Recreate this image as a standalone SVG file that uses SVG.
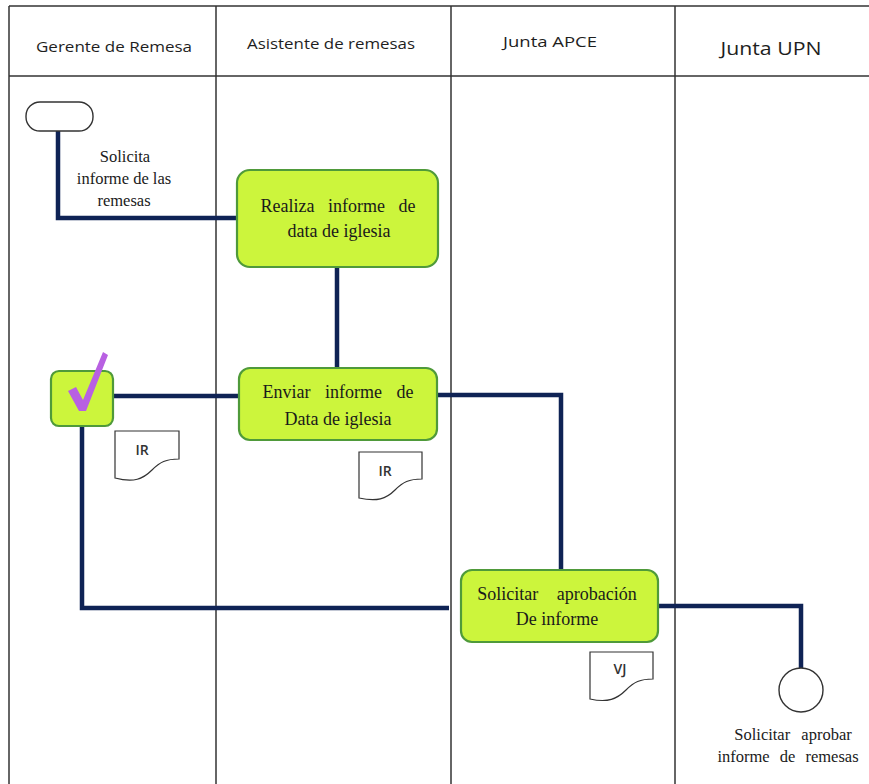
<svg xmlns="http://www.w3.org/2000/svg" width="869" height="784" viewBox="0 0 869 784">
  <style>
    .lane { stroke: #333; stroke-width: 1.5; fill: none; }
    .hdr { font-family: "Open Sans", "Noto Sans", "Liberation Sans", sans-serif; fill: #1e1e1e; text-anchor: middle; }
    .proc { fill: #ccf53c; stroke: #4f9a3a; stroke-width: 2.2; }
    .ptxt { font-family: "Liberation Serif", "Times New Roman", serif; font-size: 18px; fill: #1a1a1a; text-anchor: middle; }
    .lbl { font-family: "Liberation Serif", "Times New Roman", serif; font-size: 16.5px; fill: #1a1a1a; text-anchor: middle; }
    .doc { fill: #fff; stroke: #333; stroke-width: 1.2; }
    .dtxt { font-family: "Open Sans", "Noto Sans", "Liberation Sans", sans-serif; font-size: 14px; font-weight: 600; fill: #333; text-anchor: middle; }
    .conn { stroke: #0f2355; stroke-width: 4.5; fill: none; stroke-linejoin: miter; }
    .term { fill: #fff; stroke: #333; stroke-width: 1.4; }
  </style>

  <rect width="869" height="784" fill="#fff"/>

  <!-- swimlane grid -->
  <g id="lanes">
    <line class="lane" x1="9" y1="6" x2="869" y2="6"/>
    <line class="lane" x1="9" y1="76" x2="869" y2="76"/>
    <line class="lane" x1="9" y1="6" x2="9" y2="784"/>
    <line class="lane" x1="216" y1="6" x2="216" y2="784"/>
    <line class="lane" x1="451" y1="6" x2="451" y2="784"/>
    <line class="lane" x1="675" y1="6" x2="675" y2="784"/>
    <text class="hdr" x="114" y="52" font-size="14" textLength="156" lengthAdjust="spacingAndGlyphs">Gerente de Remesa</text>
    <text class="hdr" x="331" y="49" font-size="14" textLength="168" lengthAdjust="spacingAndGlyphs">Asistente de remesas</text>
    <text class="hdr" x="550" y="47" font-size="14" textLength="94" lengthAdjust="spacingAndGlyphs">Junta APCE</text>
    <text class="hdr" x="771" y="55" font-size="18" textLength="101" lengthAdjust="spacingAndGlyphs">Junta UPN</text>
  </g>

  <!-- connectors -->
  <g id="connectors">
    <polyline class="conn" points="58,131 58,218 238,218"/>
    <line class="conn" x1="337" y1="267" x2="337" y2="368"/>
    <line class="conn" x1="113" y1="396" x2="239" y2="396"/>
    <polyline class="conn" points="437,395 561,395 561,571"/>
    <polyline class="conn" points="82,427 82,608 449,608"/>
    <polyline class="conn" points="658,606 801,606 801,669"/>
  </g>

  <g id="start">
    <rect class="term" x="26" y="102" width="67" height="29" rx="14" ry="14"/>
  </g>

  <g id="label-solicita">
    <text class="lbl" x="125" y="162">Solicita</text>
    <text class="lbl" x="124" y="184">informe de las</text>
    <text class="lbl" x="124" y="206">remesas</text>
  </g>

  <g id="realiza">
    <rect class="proc" x="237" y="170" width="201" height="97" rx="13" ry="13"/>
    <text class="ptxt" x="338" y="212" word-spacing="9">Realiza informe de</text>
    <text class="ptxt" x="339" y="237">data de iglesia</text>
  </g>

  <g id="enviar">
    <rect class="proc" x="239" y="368" width="198" height="72" rx="11" ry="11"/>
    <text class="ptxt" x="338" y="398" word-spacing="10">Enviar informe de</text>
    <text class="ptxt" x="338" y="425">Data de iglesia</text>
  </g>

  <g id="check">
    <rect class="proc" x="51" y="371" width="62" height="55" rx="8" ry="8"/>
    <polygon points="68,391 76,387 83,400 103,352 108,355 86,411 79,411" fill="#b860e2"/>
  </g>

  <g id="doc-ir-1">
    <path class="doc" d="M115,431 H179 V459 C166,459 160,462 152,470 C143,479 134,483 115,478 Z"/>
    <text class="dtxt" x="142" y="455">IR</text>
  </g>

  <g id="doc-ir-2">
    <path class="doc" d="M359,452 H422 V479 C409,479 403,482 395,490 C386,499 377,502 359,498 Z"/>
    <text class="dtxt" x="385" y="476">IR</text>
  </g>

  <g id="solicitar">
    <rect class="proc" x="461" y="570" width="197" height="72" rx="11" ry="11"/>
    <text class="ptxt" x="557" y="600" word-spacing="14">Solicitar aprobación</text>
    <text class="ptxt" x="557" y="625">De informe</text>
  </g>

  <g id="doc-vj">
    <path class="doc" d="M590,652 H653 V679 C640,679 634,682 626,690 C617,699 608,703 590,699 Z"/>
    <text class="dtxt" x="620" y="674">VJ</text>
  </g>

  <g id="end">
    <circle class="term" cx="801" cy="690" r="22"/>
    <text class="lbl" x="793" y="740" font-size="16" word-spacing="7">Solicitar aprobar</text>
    <text class="lbl" x="788" y="762" font-size="16" word-spacing="6">informe de remesas</text>
  </g>
</svg>
